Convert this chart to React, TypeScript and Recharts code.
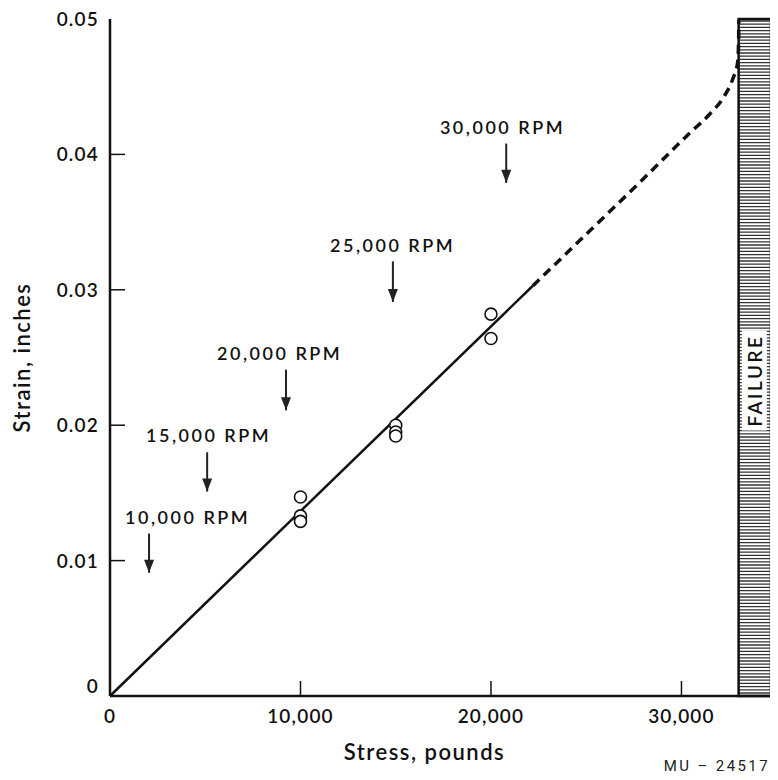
import React from 'react';
import { ComposedChart, Line, Scatter, XAxis, YAxis, ReferenceArea } from 'recharts';

const stressTicks = [0, 10000, 20000, 30000];
const strainTicks = [0, 0.01, 0.02, 0.03, 0.04, 0.05];

// measured points
const pointStress = [10000, 10000, 10000, 15000, 15000, 15000, 20000, 20000];
const pointStrain = [0.0147, 0.0133, 0.0129, 0.02, 0.0195, 0.0192, 0.0282, 0.0264];

// fitted line (solid) and extrapolation (dashed)
const solidStress = [0, 22200];
const solidStrain = [0, 0.0303];
const dashStress = [22200, 25000, 28000, 30450, 31500, 32200, 32700, 32950, 33000, 33010];
const dashStrain = [0.0303, 0.0341, 0.0382, 0.0416, 0.043, 0.0442, 0.0456, 0.0468, 0.0484, 0.0499];

// speed annotations
const rpmLabels = ['10,000 RPM', '15,000 RPM', '20,000 RPM', '25,000 RPM', '30,000 RPM'];
const rpmTextStress = [790, 1890, 5620, 11550, 17320];
const rpmTextStrain = [0.0132, 0.0193, 0.0253, 0.0333, 0.042];
const rpmArrowStress = [2050, 5100, 9240, 14850, 20800];
const rpmArrowTop = [0.012, 0.018, 0.0241, 0.0321, 0.0408];
const rpmArrowTip = [0.0091, 0.0151, 0.0211, 0.0291, 0.0379];

const failureFrom = 33000;
const failureTo = 34700;
const failureLabelStrain = 0.0233;

const FONT = 'Lato, "Open Sans", sans-serif';
const INK = '#111';

const points = pointStress.map((x, i) => ({ x, y: pointStrain[i] }));
const solid = solidStress.map((x, i) => ({ x, y: solidStrain[i] }));
const dashed = dashStress.map((x, i) => ({ x, y: dashStrain[i] }));
const rpmText = rpmLabels.map((label, i) => ({ x: rpmTextStress[i], y: rpmTextStrain[i], label }));
const arrows = rpmArrowStress.map((x, i) => [
  { x, y: rpmArrowTop[i] },
  { x, y: rpmArrowTip[i] },
]);
const failureLabel = [{ x: (failureFrom + failureTo) / 2, y: failureLabelStrain }];

const fmtStress = (v: number) => (v === 0 ? '0' : v.toLocaleString('en-US'));
const fmtStrain = (v: number) => (v === 0 ? '0' : v.toFixed(2));

const BottomTick = (props: any) => {
  const { x, y, payload } = props;
  return (
    <g>
      {payload.value !== 0 && <line x1={x} x2={x} y1={y} y2={y - 15} stroke={INK} strokeWidth={1.5} />}
      <text
        x={x}
        y={y + 27}
        textAnchor="middle"
        fontFamily={FONT}
        fontSize={19}
        fontWeight={600}
        letterSpacing={1.2}
        fill={INK}
      >
        {fmtStress(payload.value)}
      </text>
    </g>
  );
};

const TopTick = (props: any) => {
  const { x, y, payload } = props;
  if (payload.value === 0) return <g />;
  return <line x1={x} x2={x} y1={y} y2={y + 15} stroke={INK} strokeWidth={1.5} />;
};

const LeftTick = (props: any) => {
  const { x, y, payload } = props;
  const v = payload.value;
  return (
    <g>
      {v !== 0 && v !== 0.05 && <line x1={x} x2={x + 15} y1={y} y2={y} stroke={INK} strokeWidth={1.5} />}
      <text
        x={x - 11}
        y={v === 0 ? y - 3 : y + 7}
        textAnchor="end"
        fontFamily={FONT}
        fontSize={19}
        fontWeight={600}
        letterSpacing={1.2}
        fill={INK}
      >
        {fmtStrain(v)}
      </text>
    </g>
  );
};

const FailureBar = (props: any) => {
  const { x, y, width, height } = props;
  const rows = [];
  for (let yy = y + 2; yy < y + height - 1; yy += 3.2) {
    rows.push(<line key={yy} x1={x} x2={x + width} y1={yy} y2={yy} stroke="#333" strokeWidth={1.3} />);
  }
  return (
    <g>
      <rect x={x} y={y} width={width} height={height} fill="#fff" />
      {rows}
      <rect x={x} y={y} width={width} height={height} fill="none" stroke={INK} strokeWidth={2.5} />
    </g>
  );
};

const FailureText = (props: any) => {
  const { cx, cy } = props;
  return (
    <g>
      <rect x={cx - 13} y={cy - 50} width={25} height={100} fill="#fff" />
      <text
        x={cx}
        y={cy}
        transform={`rotate(-90 ${cx} ${cy})`}
        textAnchor="middle"
        dominantBaseline="central"
        fontFamily={FONT}
        fontSize={19}
        fontWeight={600}
        letterSpacing={2.5}
        fill={INK}
      >
        FAILURE
      </text>
    </g>
  );
};

const RpmText = (props: any) => (
  <text
    x={props.cx}
    y={props.cy}
    dominantBaseline="central"
    fontFamily={FONT}
    fontSize={18}
    fontWeight={600}
    letterSpacing={2.5}
    fill={INK}
  >
    {props.payload.label}
  </text>
);

const Circle = (props: any) => (
  <circle cx={props.cx} cy={props.cy} r={6} fill="#fff" stroke={INK} strokeWidth={1.6} />
);

const ArrowHead = (props: any) => {
  const { cx, cy, index } = props;
  if (index !== 1) return <g key={`a-${index}`} />;
  return <polygon key={`a-${index}`} points={`${cx - 5},${cy - 13} ${cx + 5},${cy - 13} ${cx},${cy}`} fill="#222" />;
};

export default function App() {
  return (
    <div style={{ position: 'relative', width: 770, height: 764 }}>
      <ComposedChart width={770} height={764} margin={{ top: 11, right: 7, left: 0, bottom: 0 }}>
        <XAxis
          xAxisId="top"
          orientation="top"
          type="number"
          dataKey="x"
          domain={[0, 34700]}
          ticks={stressTicks}
          height={0}
          tickSize={0}
          tickMargin={0}
          tick={<TopTick />}
          axisLine={{ stroke: INK, strokeWidth: 2.5 }}
        />
        <XAxis
          type="number"
          dataKey="x"
          domain={[0, 34700]}
          ticks={stressTicks}
          height={76}
          tickSize={0}
          tickMargin={0}
          tick={<BottomTick />}
          axisLine={{ stroke: INK, strokeWidth: 2.5 }}
          label={{
            value: 'Stress, pounds',
            position: 'insideBottom',
            offset: 12,
            dx: -16,
            style: { fontFamily: FONT, fontSize: 22, fontWeight: 600, letterSpacing: 1.5, fill: INK },
          }}
        />
        <YAxis
          type="number"
          domain={[0, 0.05]}
          ticks={strainTicks}
          width={102}
          tickSize={0}
          tickMargin={0}
          tick={<LeftTick />}
          axisLine={{ stroke: INK, strokeWidth: 2.5 }}
          label={{
            value: 'Strain, inches',
            angle: -90,
            position: 'insideLeft',
            offset: 14,
            style: { textAnchor: 'middle', fontFamily: FONT, fontSize: 22, fontWeight: 600, letterSpacing: 1.5, fill: INK },
          }}
        />
        <ReferenceArea x1={failureFrom} x2={failureTo} y1={0} y2={0.05} shape={<FailureBar />} ifOverflow="extendDomain" />
        <Line data={solid} dataKey="y" stroke={INK} strokeWidth={2.5} dot={false} isAnimationActive={false} />
        <Line
          data={dashed}
          dataKey="y"
          type="monotone"
          stroke={INK}
          strokeWidth={3.5}
          strokeDasharray="9 6"
          dot={false}
          isAnimationActive={false}
        />
        <Scatter data={points} dataKey="y" shape={<Circle />} isAnimationActive={false} />
        {arrows.map((a, i) => (
          <Line
            key={i}
            data={a}
            dataKey="y"
            stroke="#222"
            strokeWidth={2}
            dot={ArrowHead}
            isAnimationActive={false}
          />
        ))}
        <Scatter data={rpmText} dataKey="y" shape={<RpmText />} isAnimationActive={false} />
        <Scatter data={failureLabel} dataKey="y" shape={<FailureText />} isAnimationActive={false} />
      </ComposedChart>
      <div
        style={{
          position: 'absolute',
          right: 8,
          top: 749,
          lineHeight: '18px',
          fontFamily: 'Roboto, sans-serif',
          fontWeight: 400,
          fontSize: 15,
          letterSpacing: 2.4,
          color: '#222',
          whiteSpace: 'nowrap',
        }}
      >
        MU – 24517
      </div>
    </div>
  );
}
